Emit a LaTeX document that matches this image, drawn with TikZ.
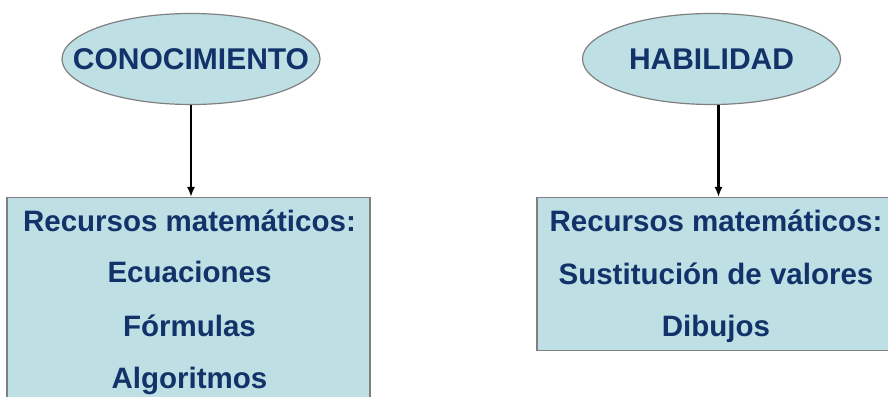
\documentclass[tikz,border=0pt]{standalone}
\usepackage{fontspec}
\setmainfont{Liberation Sans}
\usetikzlibrary{shapes.geometric,arrows.meta}
\definecolor{boxfill}{HTML}{BEE0E4}
\definecolor{inktext}{HTML}{12326A}
\definecolor{rimgray}{HTML}{808080}
\tikzset{
  topic/.style={ellipse, draw=rimgray, line width=1.2pt, fill=boxfill,
    minimum width=258pt, minimum height=91pt, inner sep=0pt,
    text=inktext, font=\fontsize{30}{30}\selectfont\bfseries},
  panel/.style={rectangle, draw=rimgray, line width=1.2pt, fill=boxfill, inner sep=0pt},
  item/.style={anchor=base, inner sep=0pt, text=inktext,
    font=\fontsize{29.5}{29.5}\selectfont\bfseries},
  link/.style={-{Latex[length=10pt,width=8pt]}, line width=2.5pt}
}
\begin{document}
\begin{tikzpicture}[x=1pt,y=1pt]
  \useasboundingbox (0,0) rectangle (888,396);
  % ovals (text kept zero-width so the oval keeps its size)
  \node[topic] (con) at (191,337) {\makebox[0pt]{CONOCIMIENTO}};
  \node[topic] (hab) at (711.5,337) {\makebox[0pt]{HABILIDAD}};
  % boxes
  \node[panel, minimum width=363pt, minimum height=220pt, anchor=north] (conbox) at (188.5,199) {};
  \node[panel, minimum width=358pt, minimum height=153pt, anchor=north] (habbox) at (716,199) {};
  % box texts
  \node[item] (c1) at (189.5,164) {Recursos matemáticos:};
  \node[item] (c2) at (189.5,113) {Ecuaciones};
  \node[item] (c3) at (189.5,59) {Fórmulas};
  \node[item] (c4) at (189.5,8) {Algoritmos};
  \node[item] (h1) at (716,164) {Recursos matemáticos:};
  \node[item] (h2) at (716,111) {Sustitución de valores};
  \node[item] (h3) at (716,59) {Dibujos};
  % arrows
  \draw[link] (con.south) -- (con.south |- conbox.north);
  \draw[link] ([xshift=7pt]hab.south) -- ([xshift=7pt]hab.south |- habbox.north);
\end{tikzpicture}
\end{document}
